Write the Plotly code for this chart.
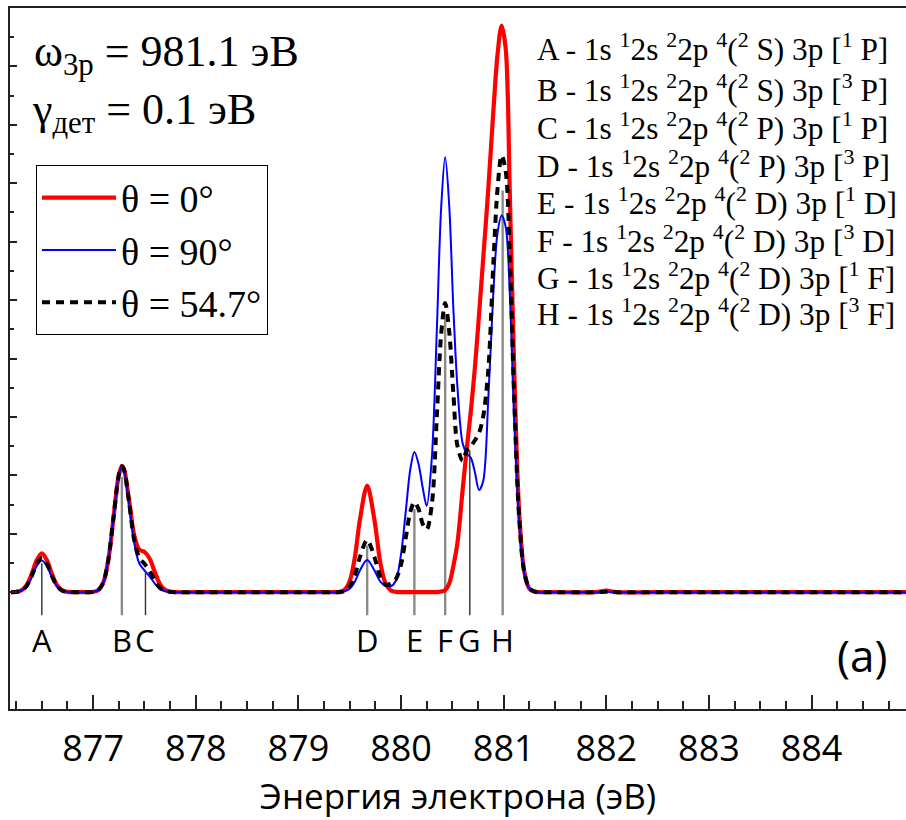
import plotly.graph_objects as go

# ---------------- data ----------------
energy = [876.2,
          876.25, 876.3, 876.35, 876.4, 876.45, 876.5, 876.55, 876.6, 876.65, 876.7, 876.75,
          876.85, 876.95,
          877.0, 877.05, 877.1, 877.15, 877.2, 877.25, 877.28, 877.3, 877.35, 877.4, 877.45,
          877.5, 877.55, 877.6, 877.65, 877.7, 877.75, 877.8,
          878.0, 878.5, 879.0, 879.3,
          879.35, 879.4, 879.45, 879.5, 879.55, 879.6, 879.67, 879.74, 879.8, 879.85, 879.9,
          879.95, 880.0, 880.05, 880.09, 880.13, 880.17, 880.21, 880.25, 880.3, 880.35, 880.39,
          880.43, 880.47, 880.51, 880.55, 880.6, 880.64, 880.68, 880.72, 880.76, 880.8, 880.85,
          880.9, 880.94, 880.98, 881.02, 881.06, 881.1, 881.15, 881.2, 881.25, 881.3, 881.35,
          881.45, 881.9, 882.0, 882.1, 882.5, 883.0, 884.0, 884.92]

theta0 = [0,
          0.01, 0.06, 0.23, 0.61, 1.09, 1.33, 1.09, 0.61, 0.23, 0.06, 0.01,
          0, 0,
          0.01, 0.07, 0.34, 1.15, 2.60, 4.01, 4.32, 4.22, 3.15, 1.95, 1.45,
          1.38, 1.15, 0.70, 0.28, 0.08, 0.02, 0,
          0, 0, 0, 0,
          0, 0.01, 0.08, 0.38, 1.19, 2.49, 3.65, 2.49, 0.97, 0.29, 0.06,
          0.01, 0, 0, 0, 0, 0, 0, 0, 0, 0, 0.02,
          0.07, 0.30, 0.90, 1.70, 3.50, 4.90, 6.20, 7.70, 9.50, 11.4, 13.8,
          16.5, 18.4, 19.4, 18.6, 13.6, 8.0, 2.8, 0.72, 0.12, 0.02, 0,
          0, 0, 0.05, 0, 0, 0, 0, 0]

theta90 = [0,
           0.01, 0.05, 0.19, 0.49, 0.89, 1.08, 0.89, 0.49, 0.19, 0.05, 0.01,
           0, 0,
           0.01, 0.07, 0.34, 1.15, 2.60, 4.00, 4.30, 4.19, 3.04, 1.69, 0.98,
           0.75, 0.54, 0.30, 0.11, 0.03, 0.01, 0,
           0, 0, 0, 0,
           0, 0, 0.03, 0.12, 0.36, 0.75, 1.10, 0.75, 0.35, 0.22, 0.20,
           0.40, 1.30, 2.90, 4.20, 4.80, 4.40, 3.60, 2.95, 4.60, 9.10, 13.1,
           14.9, 13.2, 9.70, 7.00, 5.10, 4.75, 4.60, 4.10, 3.50, 3.80, 6.60,
           10.3, 12.3, 12.9, 12.5, 10.2, 6.1, 2.4, 0.65, 0.13, 0.02, 0,
           0, 0, 0.01, 0, 0, 0, 0, 0]

theta547 = [0,
            0.01, 0.05, 0.20, 0.54, 0.96, 1.17, 0.96, 0.54, 0.20, 0.05, 0.01,
            0, 0,
            0.01, 0.07, 0.34, 1.15, 2.60, 4.00, 4.31, 4.20, 3.08, 1.79, 1.17,
            0.97, 0.73, 0.40, 0.15, 0.04, 0.01, 0,
            0, 0, 0, 0,
            0, 0, 0.04, 0.19, 0.58, 1.21, 1.78, 1.21, 0.50, 0.25, 0.30,
            0.45, 0.95, 1.95, 2.75, 3.08, 2.85, 2.35, 2.15, 3.00, 6.10, 8.80,
            9.90, 8.90, 6.80, 5.00, 4.50, 4.85, 5.00, 5.20, 5.45, 6.00, 7.60,
            11.3, 13.8, 14.95, 14.4, 11.5, 6.9, 2.6, 0.70, 0.13, 0.02, 0,
            0, 0, 0.01, 0, 0, 0, 0, 0]

series_names = ["θ = 0°", "θ = 90°", "θ = 54.7°"]

line_labels = ["A", "B", "C", "D", "E", "F", "G", "H"]
line_energy = [876.50, 877.28, 877.51, 879.67, 880.13, 880.43, 880.67, 880.99]
line_height = [0.99, 3.94, 0.66, 1.60, 2.85, 9.45, 4.85, 13.75]
stick_bottom = -0.79
label_level = -1.65

term_lines = [
    "A - 1s <sup>1</sup>2s <sup>2</sup>2p <sup>4</sup>(<sup>2</sup> S) 3p [<sup>1</sup> P]",
    "B - 1s <sup>1</sup>2s <sup>2</sup>2p <sup>4</sup>(<sup>2</sup> S) 3p [<sup>3</sup> P]",
    "C - 1s <sup>1</sup>2s <sup>2</sup>2p <sup>4</sup>(<sup>2</sup> P) 3p [<sup>1</sup> P]",
    "D - 1s <sup>1</sup>2s <sup>2</sup>2p <sup>4</sup>(<sup>2</sup> P) 3p [<sup>3</sup> P]",
    "E - 1s <sup>1</sup>2s <sup>2</sup>2p <sup>4</sup>(<sup>2</sup> D) 3p [<sup>1</sup> D]",
    "F - 1s <sup>1</sup>2s <sup>2</sup>2p <sup>4</sup>(<sup>2</sup> D) 3p [<sup>3</sup> D]",
    "G - 1s <sup>1</sup>2s <sup>2</sup>2p <sup>4</sup>(<sup>2</sup> D) 3p [<sup>1</sup> F]",
    "H - 1s <sup>1</sup>2s <sup>2</sup>2p <sup>4</sup>(<sup>2</sup> D) 3p [<sup>3</sup> F]",
]

x_ticks = [877, 878, 879, 880, 881, 882, 883, 884]
y_major = [0, 2, 4, 6, 8, 10, 12, 14, 16, 18, 20]
y_minor = [1, 3, 5, 7, 9, 11, 13, 15, 17, 19]

# ---------------- styles ----------------
GREY_STICKS = {"B", "D", "E", "F", "H"}
SERIF = "Liberation Serif, Times New Roman, serif"
SANS = "Open Sans, sans-serif"
AX = "#222222"

fig = go.Figure()

# stick spectrum
for group, color, width in [(True, "#8a8a8a", 2.4), (False, "#303030", 1.4)]:
    xs, ys = [], []
    for lab, e, h in zip(line_labels, line_energy, line_height):
        if (lab in GREY_STICKS) == group:
            xs += [e, e, None]
            ys += [stick_bottom, h, None]
    fig.add_trace(go.Scatter(x=xs, y=ys, mode="lines", showlegend=False,
                             hoverinfo="skip", line=dict(color=color, width=width)))

styles = [dict(color="#ff0000", width=4.2),
          dict(color="#0000ff", width=2.0),
          dict(color="#000000", width=4.0, dash="8px,6px")]
for name, vals, st in zip(series_names, [theta0, theta90, theta547], styles):
    fig.add_trace(go.Scatter(x=energy, y=vals, mode="lines", name=name,
                             line=dict(shape="spline", smoothing=0.9, **st)))

annotations = []
for lab, e in zip(line_labels, line_energy):
    annotations.append(dict(x=e, y=label_level, xref="x", yref="y", text=lab,
                            showarrow=False, font=dict(family=SANS, size=31, color="black")))

term_y = [0.9444, 0.8859, 0.8320, 0.7780, 0.7241, 0.6702, 0.6178, 0.5660]
for t, yy in zip(term_lines, term_y):
    annotations.append(dict(x=0.586, y=yy, xref="paper", yref="paper", text=t,
                            xanchor="left", yanchor="middle", showarrow=False,
                            font=dict(family=SERIF, size=31.3, color="black")))

annotations.append(dict(x=0.0246, y=0.934, xref="paper", yref="paper",
                        text="ω<sub>3p</sub> = 981.1 эВ", xanchor="left", yanchor="middle",
                        showarrow=False, font=dict(family=SERIF, size=44, color="black")))
annotations.append(dict(x=0.0225, y=0.851, xref="paper", yref="paper",
                        text="γ<sub>дет</sub> = 0.1 эВ", xanchor="left", yanchor="middle",
                        showarrow=False, font=dict(family=SERIF, size=44, color="black")))
annotations.append(dict(x=0.951, y=0.077, xref="paper", yref="paper", text="(a)",
                        xanchor="center", yanchor="middle", showarrow=False,
                        font=dict(family=SANS, size=44, color="black")))

fig.update_layout(
    width=906, height=820,
    margin=dict(l=10, r=0, t=8, b=111),
    paper_bgcolor="white", plot_bgcolor="white",
    font=dict(family=SANS, color="black"),
    legend=dict(x=0.029, y=0.7755, xanchor="left", yanchor="top",
                bordercolor="black", borderwidth=1, bgcolor="white",
                font=dict(family=SERIF, size=38, color="black"),
                itemwidth=74, tracegroupgap=0),
    annotations=annotations,
)

fig.update_xaxes(
    range=[876.19, 884.92], showgrid=False, zeroline=False,
    showline=True, linecolor=AX, linewidth=1.5, mirror=True,
    ticks="inside", ticklen=14, tickwidth=1.5, tickcolor=AX,
    tickmode="array", tickvals=x_ticks, ticktext=[str(v) for v in x_ticks],
    tickfont=dict(family=SANS, size=36, color="black"),
    ticklabelstandoff=7,
    minor=dict(dtick=0.25, tick0=877, ticks="inside", ticklen=8, tickwidth=1.5, tickcolor=AX),
    title=dict(text="Энергия электрона (эВ)", font=dict(family=SANS, size=35, color="black"),
               standoff=10),
)
fig.update_yaxes(
    range=[-4, 20], showgrid=False, zeroline=False,
    showline=True, linecolor=AX, linewidth=1.5, mirror=False,
    ticks="inside", ticklen=7, tickwidth=1.5, tickcolor=AX,
    tickmode="array", tickvals=y_major, showticklabels=False,
    minor=dict(tickmode="array", tickvals=y_minor, ticks="inside", ticklen=4,
               tickwidth=1.5, tickcolor=AX),
)

fig.write_html("out.html")
